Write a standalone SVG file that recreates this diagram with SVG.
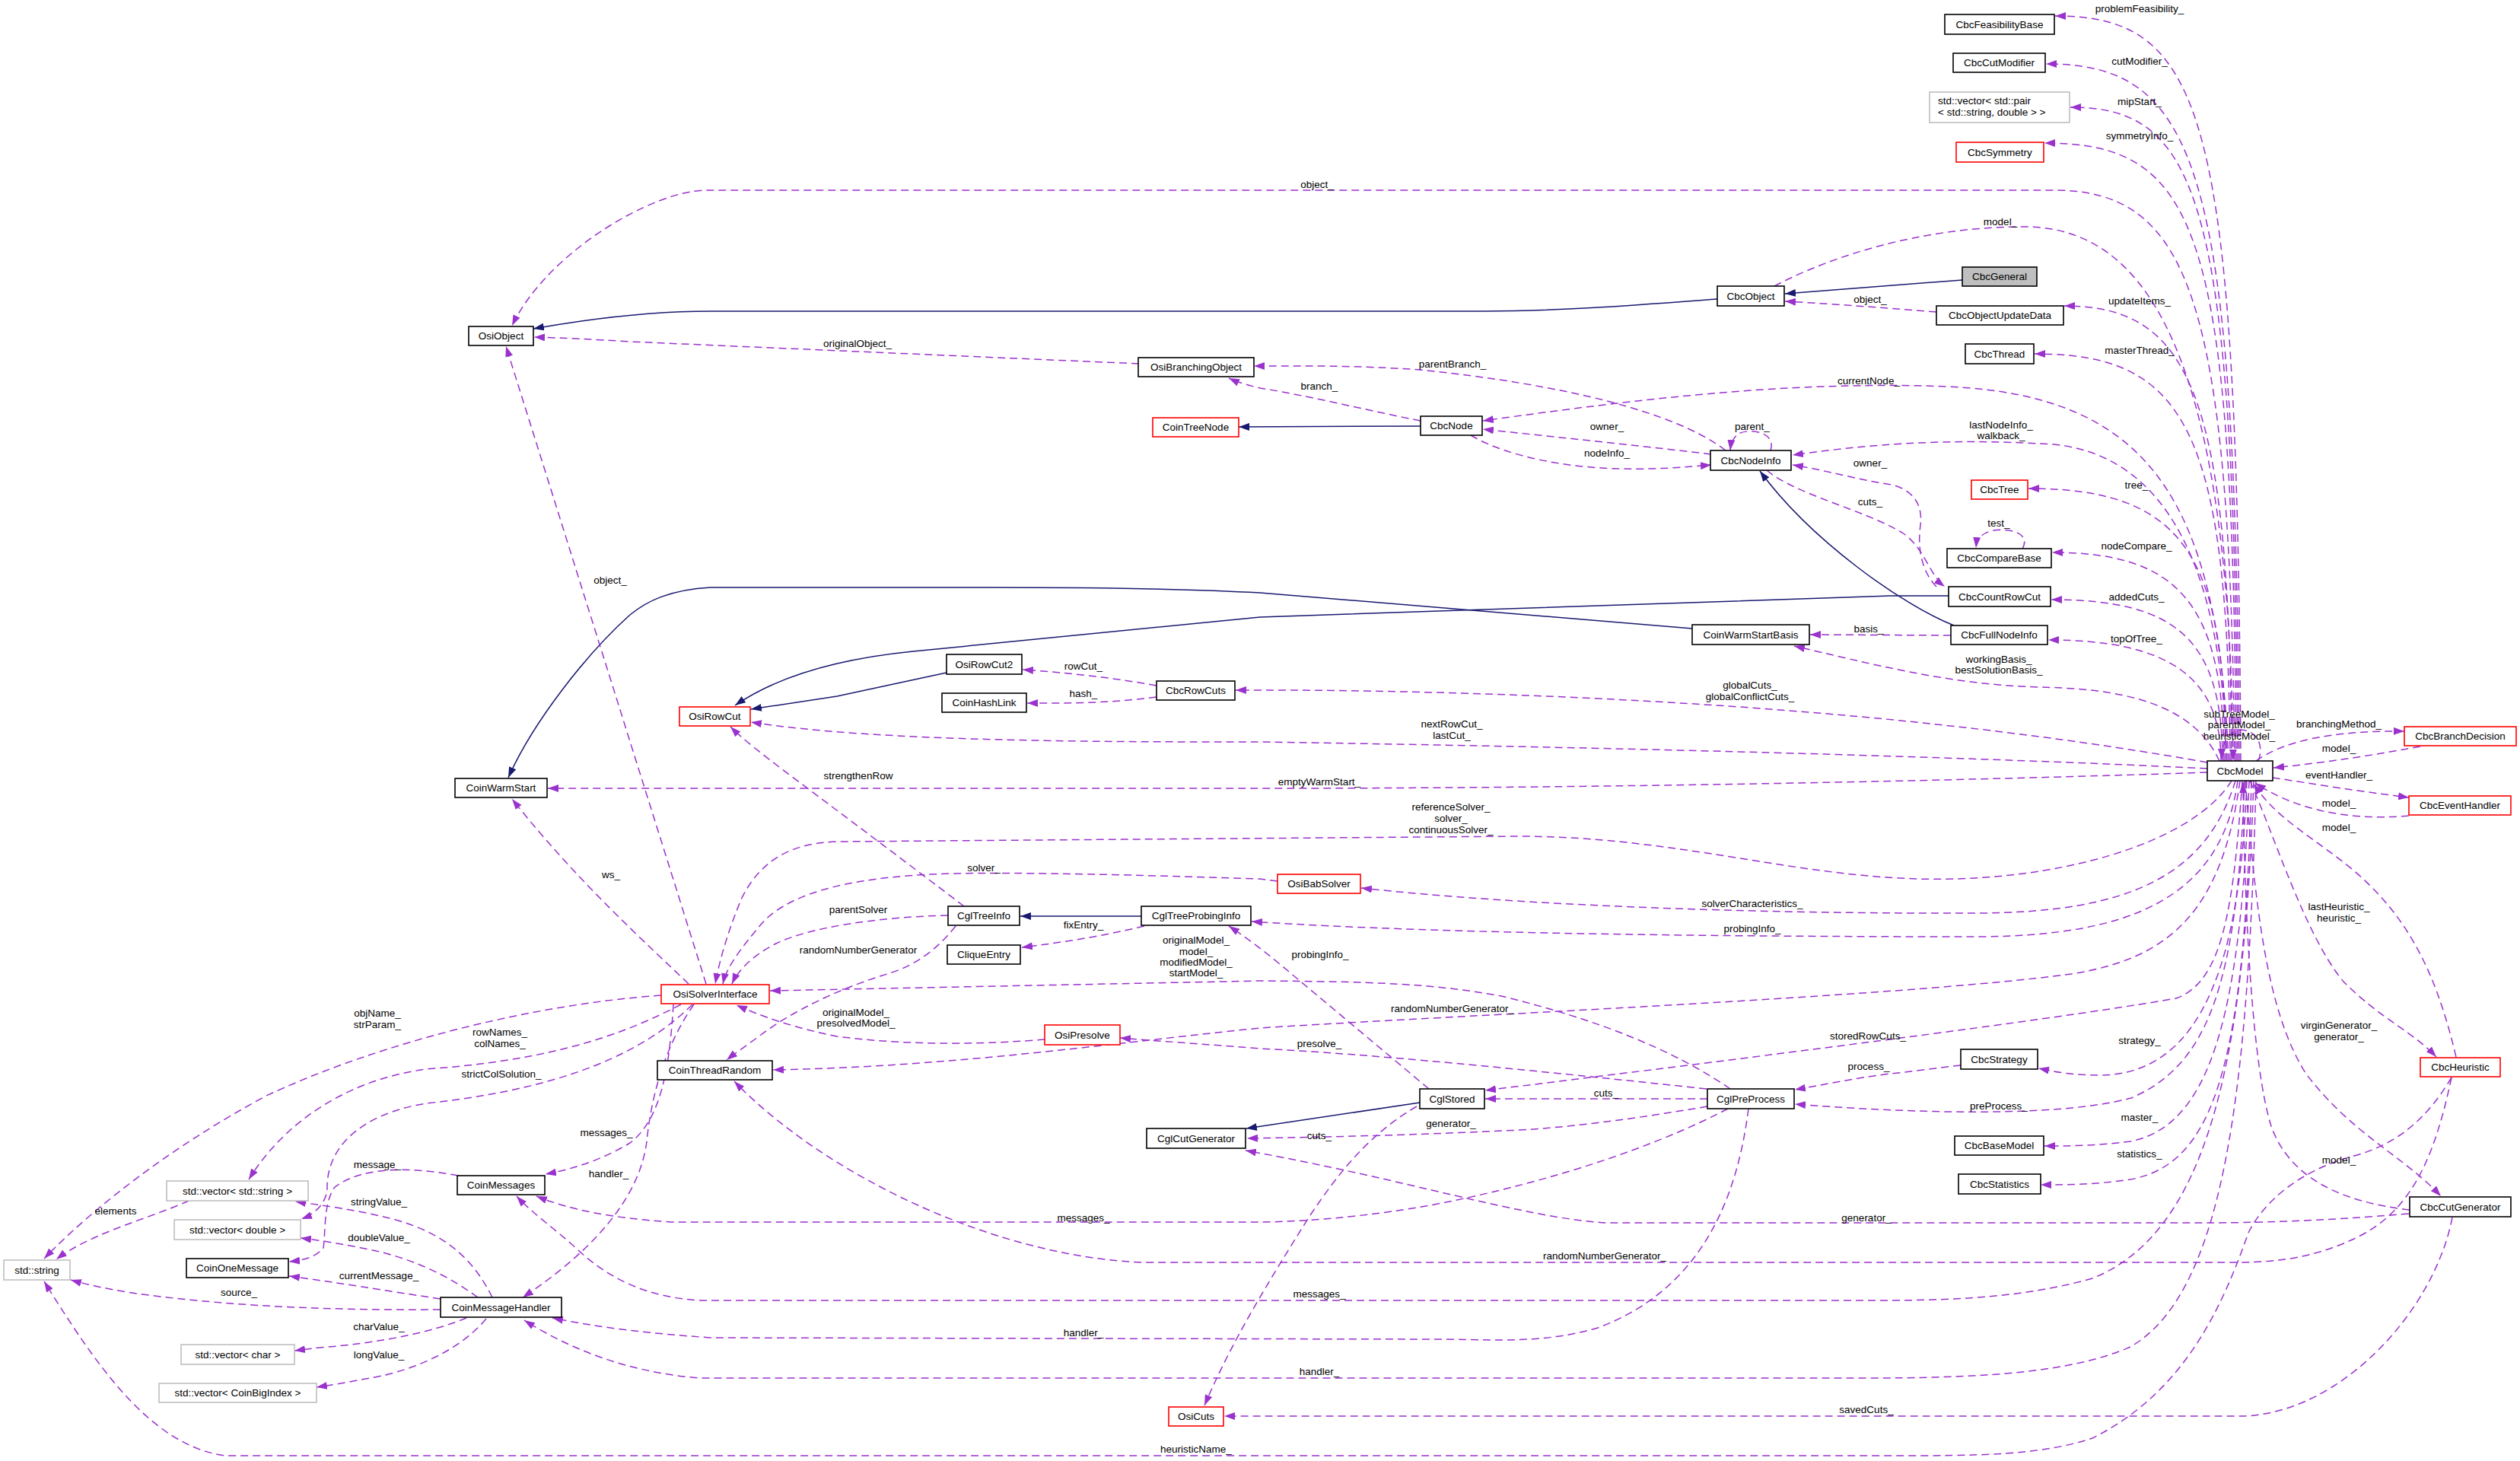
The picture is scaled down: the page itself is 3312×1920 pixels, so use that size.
<svg xmlns="http://www.w3.org/2000/svg" width="3312" height="1920" viewBox="0 0 3312 1920">
<style>
text{font-family:'Liberation Sans',Arial,sans-serif;font-size:13.5px;fill:#000}
.n rect{fill:#fff;stroke:#000;stroke-width:1.6}
.r rect{fill:#fff;stroke:#f00;stroke-width:1.6}
.g rect{fill:#fff;stroke:#bfbfbf;stroke-width:1.6}
.f rect{fill:#bfbfbf;stroke:#000;stroke-width:1.6}
.n text,.r text,.g text,.f text{text-anchor:middle}
#labels text{text-anchor:middle}
.d{fill:none;stroke:#9a32cd;stroke-width:1.5;stroke-dasharray:10,6;marker-end:url(#ap)}
.s{fill:none;stroke:#191970;stroke-width:1.5;marker-end:url(#an)}
</style>
<defs>
<marker id="ap" markerUnits="userSpaceOnUse" markerWidth="14" markerHeight="10" refX="14" refY="5" orient="auto" viewBox="0 0 14 10"><path d="M0,0L14,5L0,10z" fill="#9a32cd"/></marker>
<marker id="an" markerUnits="userSpaceOnUse" markerWidth="14" markerHeight="10" refX="14" refY="5" orient="auto" viewBox="0 0 14 10"><path d="M0,0L14,5L0,10z" fill="#191970"/></marker>
</defs>
<rect width="3312" height="1920" fill="#fff"/>
<g id="edges">
<path class="s" d="M2579,368 L2346,386"/>
<path class="s" d="M2257,393 C2150,401 2050,409 1950,409 L934,409 C860,409 780,418 701,432"/>
<path class="s" d="M1867,560 L1628,561"/>
<path class="s" d="M2568,822 C2500,795 2380,710 2313,619"/>
<path class="s" d="M2561,783 L2484,783 L1656,811 L1200,856 C1100,866 1020,890 966,927"/>
<path class="s" d="M1244,884 L1100,915 L987,932"/>
<path class="s" d="M2224,826 L1656,779 C1550,773 1400,772 1300,772 L934,772 C880,775 850,790 828,808 C770,860 700,950 668,1022"/>
<path class="s" d="M1500,1204 L1341,1204"/>
<path class="s" d="M1866,1449 L1638,1483"/>

<path class="d" d="M2945,1000 C2940,150 2900,21 2701,21"/>
<path class="d" d="M2943,1000 C2938,220 2890,84 2689,84"/>
<path class="d" d="M2941,1000 C2936,260 2890,141 2721,141"/>
<path class="d" d="M2939,1000 C2934,300 2890,188 2687,188"/>
<path class="d" d="M2937,1000 C2930,400 2880,250 2700,250 L928,250 C860,250 720,330 673,428"/>
<path class="d" d="M2332,376 C2400,340 2520,298 2660,298 C2800,298 2930,420 2935,999"/>
<path class="d" d="M2933,1000 C2930,520 2880,402 2713,402"/>
<path class="d" d="M2931,1000 C2928,560 2870,465 2674,465"/>
<path class="d" d="M2929,1000 C2915,650 2820,520 2560,508 C2350,500 2150,525 1949,553"/>
<path class="d" d="M2927,1000 C2920,750 2850,600 2700,584 C2550,575 2450,585 2356,598"/>
<path class="d" d="M2925,1000 C2925,730 2870,642 2666,642"/>
<path class="d" d="M2923,1000 C2923,790 2860,726 2697,726"/>
<path class="d" d="M2921,1000 C2921,840 2860,788 2696,788"/>
<path class="d" d="M2919,1000 C2919,890 2850,841 2692,841"/>
<path class="d" d="M2917,1000 C2880,920 2780,905 2680,903 C2560,900 2450,870 2358,849"/>
<path class="d" d="M2901,1002 C2750,975 2550,948 2300,930 C2050,912 1800,906 1624,907"/>
<path class="d" d="M2901,1010 C2700,1000 2300,985 1656,975 C1450,975 1150,975 987,949"/>
<path class="d" d="M2901,1015 C2700,1022 2200,1036 1656,1036 L720,1036"/>
<path class="d" d="M2933,1026 C2880,1110 2700,1160 2520,1155 C2350,1150 2200,1100 2000,1099 L1100,1106 C1040,1108 1000,1130 975,1180 C958,1220 946,1260 940,1293"/>
<path class="d" d="M2938,1026 C2900,1150 2800,1199 2600,1200 C2300,1201 2000,1190 1789,1167"/>
<path class="d" d="M2941,1026 C2920,1180 2800,1230 2600,1231 C2300,1231 1900,1228 1645,1211"/>
<path class="d" d="M2944,1026 C2920,1200 2850,1260 2722,1280 C2500,1310 1900,1335 1656,1351 C1450,1372 1250,1402 1016,1406"/>
<path class="d" d="M2947,1026 C2935,1200 2920,1290 2860,1312 C2700,1340 2300,1390 1952,1433"/>
<path class="d" d="M2950,1026 C2940,1300 2900,1400 2801,1443 C2700,1470 2500,1462 2359,1451"/>
<path class="d" d="M2953,1026 C2945,1250 2900,1412 2760,1413 C2720,1413 2700,1408 2679,1404"/>
<path class="d" d="M2956,1026 C2945,1350 2900,1480 2800,1500 C2750,1506 2720,1506 2687,1506"/>
<path class="d" d="M2959,1026 C2950,1400 2910,1530 2800,1550 C2750,1557 2720,1557 2682,1557"/>
<path class="d" d="M2962,1026 C2950,1400 2900,1620 2750,1680 C2650,1708 2550,1709 2450,1709 L920,1709 C850,1705 800,1680 760,1643 C730,1615 700,1595 679,1572"/>
<path class="d" d="M2965,1026 C2955,1450 2920,1700 2800,1770 C2720,1805 2600,1811 2450,1811 L920,1811 C840,1805 760,1780 689,1735"/>
<path class="d" d="M3222,1416 C3190,1470 3150,1505 3090,1520 C3020,1540 2975,1580 2955,1620 C2920,1720 2870,1830 2750,1890 C2680,1913 2600,1913 2484,1913 L296,1913 C200,1900 130,1800 58,1684"/>
<path class="d" d="M3222,1416 C3200,1520 3170,1590 3100,1625 C3050,1650 3000,1659 2940,1659 L1500,1659 C1300,1650 1080,1540 965,1421"/>
<path class="d" d="M3228,1389 C3200,1270 3160,1200 3091,1142 C3040,1100 2990,1075 2962,1030"/>
<path class="d" d="M2957,1026 C2990,1100 3030,1230 3080,1290 C3130,1340 3170,1355 3202,1389"/>
<path class="d" d="M2951,1026 C2965,1200 2980,1330 3030,1410 C3090,1490 3160,1520 3208,1572"/>
<path class="d" d="M3167,1590 C3080,1580 3010,1550 2985,1480 C2960,1400 2950,1200 2948,1028"/>
<path class="d" d="M2965,1000 C3000,975 3060,960 3160,961"/>
<path class="d" d="M3181,981 C3120,992 3060,1002 2988,1009"/>
<path class="d" d="M2987,1022 C3040,1030 3100,1040 3166,1048"/>
<path class="d" d="M3166,1072 C3080,1080 3010,1060 2964,1029"/>
<path class="d" d="M2968,1000 C2978,975 2960,955 2940,960 C2925,965 2920,980 2920,998"/>
<path class="d" d="M2545,410 C2480,405 2420,400 2346,396"/>
<path class="d" d="M2322,618 C2360,650 2450,670 2500,700 C2530,720 2535,755 2556,771"/>
<path class="d" d="M2545,771 C2525,750 2520,720 2524,690 C2528,660 2510,640 2480,636 C2440,630 2400,618 2356,611"/>
<path class="d" d="M2564,835 L2379,834"/>
<path class="d" d="M2268,592 C2200,540 2050,505 1867,486 C1780,480 1720,481 1648,481"/>
<path class="d" d="M1867,553 C1800,540 1720,520 1656,510 C1640,506 1628,503 1615,497"/>
<path class="d" d="M2249,597 C2150,585 2050,575 1949,564"/>
<path class="d" d="M1933,572 C1980,600 2060,615 2131,616 C2180,617 2215,614 2249,611"/>
<path class="d" d="M2327,592 C2335,568 2300,562 2285,570 C2278,575 2275,582 2274,592"/>
<path class="d" d="M2658,721 C2670,700 2640,694 2620,697 C2605,700 2598,708 2597,720"/>
<path class="d" d="M1497,478 L828,449 C780,446 740,444 702,443"/>
<path class="d" d="M1520,901 C1460,890 1400,884 1344,880"/>
<path class="d" d="M1520,916 C1450,925 1400,924 1350,924"/>
<path class="d" d="M1267,1191 C1200,1140 1120,1080 1040,1020 C1000,990 975,970 960,955"/>
<path class="d" d="M1679,1158 L1656,1155 C1500,1150 1350,1146 1250,1148 C1100,1152 1030,1180 1000,1215 C975,1245 955,1270 950,1293"/>
<path class="d" d="M1246,1203 C1150,1205 1060,1220 1020,1240 C990,1255 970,1275 962,1293"/>
<path class="d" d="M1256,1217 C1230,1250 1200,1270 1166,1280 C1100,1300 1040,1330 1000,1360 C980,1375 965,1385 955,1393"/>
<path class="d" d="M1504,1217 C1450,1230 1400,1238 1343,1245"/>
<path class="d" d="M1878,1431 L1700,1282 C1680,1265 1650,1240 1615,1217"/>
<path class="d" d="M2274,1431 C2200,1380 2100,1340 1973,1309 C1880,1292 1800,1290 1656,1289 L1012,1302"/>
<path class="d" d="M2243,1431 C2000,1405 1800,1385 1656,1378 C1580,1372 1520,1368 1472,1364"/>
<path class="d" d="M1373,1366 C1300,1372 1200,1375 1100,1362 C1040,1350 1000,1335 968,1321"/>
<path class="d" d="M2244,1444 L1952,1444"/>
<path class="d" d="M2577,1400 C2540,1404 2500,1410 2484,1411 C2430,1418 2400,1425 2359,1432"/>
<path class="d" d="M2244,1454 C2150,1470 2050,1484 1973,1486 C1850,1492 1750,1494 1639,1496"/>
<path class="d" d="M1862,1454 C1800,1490 1760,1540 1720,1600 C1670,1680 1620,1760 1583,1847"/>
<path class="d" d="M2271,1457 C2150,1520 2000,1560 1900,1580 C1800,1600 1700,1606 1656,1606 L881,1606 C800,1600 750,1590 705,1572"/>
<path class="d" d="M2298,1457 C2280,1600 2220,1700 2100,1745 C2030,1765 1973,1761 1900,1760 L934,1758 C850,1752 790,1745 726,1732"/>
<path class="d" d="M3166,1595 C3050,1605 2959,1607 2900,1607 L2110,1607 C2000,1600 1850,1550 1637,1512"/>
<path class="d" d="M3223,1600 C3200,1720 3080,1855 2950,1861 L1609,1861"/>
<path class="d" d="M928,1293 L665,455"/>
<path class="d" d="M905,1293 C850,1240 760,1160 673,1050"/>
<path class="d" d="M869,1308 C700,1320 500,1370 350,1440 C220,1510 120,1590 58,1654"/>
<path class="d" d="M895,1320 C800,1370 700,1395 560,1405 C450,1420 370,1480 327,1550"/>
<path class="d" d="M910,1320 C830,1400 700,1435 560,1450 C470,1465 430,1510 430,1560 C430,1580 415,1595 396,1602"/>
<path class="d" d="M885,1320 C880,1400 870,1470 828,1502 C790,1525 750,1537 717,1543"/>
<path class="d" d="M912,1320 C870,1380 855,1450 850,1500 C840,1580 770,1650 687,1705"/>
<path class="d" d="M602,1545 C550,1535 480,1530 440,1560 C425,1580 428,1620 425,1640 C415,1652 400,1656 380,1658"/>
<path class="d" d="M647,1705 C620,1650 580,1620 520,1603 C470,1590 430,1585 388,1579"/>
<path class="d" d="M628,1705 C580,1670 530,1650 475,1640 C440,1633 420,1630 395,1627"/>
<path class="d" d="M579,1707 C500,1695 440,1685 380,1677"/>
<path class="d" d="M579,1721 C450,1722 330,1718 211,1704 C160,1698 120,1690 93,1682"/>
<path class="d" d="M613,1732 C570,1750 500,1765 420,1771 C405,1773 395,1774 387,1775"/>
<path class="d" d="M639,1733 C600,1780 530,1805 480,1812 C450,1818 430,1821 416,1823"/>
<path class="d" d="M248,1578 C200,1600 120,1620 74,1655"/>
</g>
<g id="labels">
<text x="2812" y="16">problemFeasibility_</text>
<text x="2812" y="85">cutModifier_</text>
<text x="2812" y="138">mipStart_</text>
<text x="2812" y="183">symmetryInfo_</text>
<text x="1731" y="247">object_</text>
<text x="2629" y="296">model_</text>
<text x="2458" y="398">object_</text>
<text x="2812" y="400">updateItems_</text>
<text x="1127" y="456">originalObject_</text>
<text x="2812" y="465">masterThread_</text>
<text x="1909" y="483">parentBranch_</text>
<text x="2456" y="505">currentNode_</text>
<text x="1734" y="512">branch_</text>
<text x="2630" y="563">lastNodeInfo_</text>
<text x="2630" y="577">walkback_</text>
<text x="2112" y="565">owner_</text>
<text x="2303" y="565">parent_</text>
<text x="2112" y="600">nodeInfo_</text>
<text x="2458" y="613">owner_</text>
<text x="2808" y="642">tree_</text>
<text x="2458" y="664">cuts_</text>
<text x="2627" y="692">test_</text>
<text x="2808" y="722">nodeCompare_</text>
<text x="802" y="767">object_</text>
<text x="2808" y="789">addedCuts_</text>
<text x="2456" y="831">basis_</text>
<text x="2808" y="844">topOfTree_</text>
<text x="2627" y="871">workingBasis_</text>
<text x="2627" y="885">bestSolutionBasis_</text>
<text x="1424" y="880">rowCut_</text>
<text x="2300" y="905">globalCuts_</text>
<text x="2300" y="920">globalConflictCuts_</text>
<text x="1424" y="916">hash_</text>
<text x="2943" y="943">subTreeModel_</text>
<text x="2943" y="957">parentModel_</text>
<text x="2943" y="972">heuristicModel_</text>
<text x="3074" y="956">branchingMethod_</text>
<text x="1908" y="956">nextRowCut_</text>
<text x="1908" y="971">lastCut_</text>
<text x="3074" y="988">model_</text>
<text x="1128" y="1024">strengthenRow</text>
<text x="3074" y="1023">eventHandler_</text>
<text x="1734" y="1032">emptyWarmStart_</text>
<text x="3074" y="1060">model_</text>
<text x="1907" y="1065">referenceSolver_</text>
<text x="1907" y="1080">solver_</text>
<text x="1907" y="1095">continuousSolver_</text>
<text x="3074" y="1092">model_</text>
<text x="1293" y="1145">solver_</text>
<text x="803" y="1154">ws_</text>
<text x="2303" y="1192">solverCharacteristics_</text>
<text x="3074" y="1196">lastHeuristic_</text>
<text x="3074" y="1211">heuristic_</text>
<text x="1128" y="1200">parentSolver</text>
<text x="1424" y="1220">fixEntry_</text>
<text x="2303" y="1225">probingInfo_</text>
<text x="1572" y="1240">originalModel_</text>
<text x="1572" y="1255">model_</text>
<text x="1572" y="1269">modifiedModel_</text>
<text x="1572" y="1283">startModel_</text>
<text x="1128" y="1253">randomNumberGenerator</text>
<text x="1735" y="1259">probingInfo_</text>
<text x="1909" y="1330">randomNumberGenerator_</text>
<text x="1125" y="1335">originalModel_</text>
<text x="1125" y="1349">presolvedModel_</text>
<text x="496" y="1336">objName_</text>
<text x="496" y="1351">strParam_</text>
<text x="3074" y="1352">virginGenerator_</text>
<text x="3074" y="1367">generator_</text>
<text x="657" y="1361">rowNames_</text>
<text x="657" y="1376">colNames_</text>
<text x="2455" y="1366">storedRowCuts_</text>
<text x="2812" y="1372">strategy_</text>
<text x="1734" y="1376">presolve_</text>
<text x="2456" y="1406">process_</text>
<text x="659" y="1416">strictColSolution_</text>
<text x="2111" y="1441">cuts_</text>
<text x="2627" y="1458">preProcess_</text>
<text x="2812" y="1473">master_</text>
<text x="1907" y="1481">generator_</text>
<text x="797" y="1493">messages_</text>
<text x="1734" y="1497">cuts_</text>
<text x="2812" y="1521">statistics_</text>
<text x="3074" y="1529">model_</text>
<text x="496" y="1535">message_</text>
<text x="800" y="1547">handler_</text>
<text x="498" y="1584">stringValue_</text>
<text x="152" y="1596">elements</text>
<text x="1424" y="1605">messages_</text>
<text x="2453" y="1605">generator_</text>
<text x="498" y="1631">doubleValue_</text>
<text x="2109" y="1655">randomNumberGenerator_</text>
<text x="498" y="1681">currentMessage_</text>
<text x="314" y="1703">source_</text>
<text x="1734" y="1705">messages_</text>
<text x="498" y="1748">charValue_</text>
<text x="1424" y="1756">handler_</text>
<text x="498" y="1785">longValue_</text>
<text x="1734" y="1807">handler_</text>
<text x="2453" y="1857">savedCuts_</text>
<text x="1572" y="1909">heuristicName_</text>
</g>
<g id="node-CbcFeasibilityBase" class="n"><rect x="2556" y="19" width="144" height="26"/><text x="2628" y="36.7">CbcFeasibilityBase</text></g>
<g id="node-CbcCutModifier" class="n"><rect x="2567" y="70" width="121" height="25"/><text x="2627.5" y="87.2">CbcCutModifier</text></g>
<g id="node-vector-pair" class="g"><rect x="2536" y="121" width="184" height="40"/><text x="2547" y="137.4" style="text-anchor:start">std::vector&lt; std::pair</text><text x="2547" y="152" style="text-anchor:start">&lt; std::string, double &gt; &gt;</text></g>
<g id="node-CbcSymmetry" class="r"><rect x="2571" y="187" width="115" height="26"/><text x="2628.5" y="204.7">CbcSymmetry</text></g>
<g id="node-CbcGeneral" class="f"><rect x="2579" y="351" width="98" height="25"/><text x="2628" y="368.2">CbcGeneral</text></g>
<g id="node-CbcObjectUpdateData" class="n"><rect x="2545" y="402" width="167" height="25"/><text x="2628.5" y="419.2">CbcObjectUpdateData</text></g>
<g id="node-CbcThread" class="n"><rect x="2583" y="452" width="90" height="26"/><text x="2628" y="469.7">CbcThread</text></g>
<g id="node-CbcTree" class="r"><rect x="2591" y="631" width="74" height="25"/><text x="2628" y="648.2">CbcTree</text></g>
<g id="node-CbcCompareBase" class="n"><rect x="2559" y="721" width="137" height="25"/><text x="2627.5" y="738.2">CbcCompareBase</text></g>
<g id="node-CbcCountRowCut" class="n"><rect x="2561" y="771" width="134" height="26"/><text x="2628" y="788.7">CbcCountRowCut</text></g>
<g id="node-CbcFullNodeInfo" class="n"><rect x="2564" y="822" width="127" height="25"/><text x="2627.5" y="839.2">CbcFullNodeInfo</text></g>
<g id="node-CbcModel" class="n"><rect x="2901" y="1000" width="86" height="26"/><text x="2944" y="1017.7">CbcModel</text></g>
<g id="node-CbcBranchDecision" class="r"><rect x="3160" y="955" width="147" height="25"/><text x="3233.5" y="972.2">CbcBranchDecision</text></g>
<g id="node-CbcEventHandler" class="r"><rect x="3166" y="1046" width="134" height="25"/><text x="3233" y="1063.2">CbcEventHandler</text></g>
<g id="node-CbcHeuristic" class="r"><rect x="3181" y="1390" width="105" height="25"/><text x="3233.5" y="1407.2">CbcHeuristic</text></g>
<g id="node-CbcCutGenerator" class="n"><rect x="3167" y="1573" width="133" height="26"/><text x="3233.5" y="1590.7">CbcCutGenerator</text></g>
<g id="node-CbcStrategy" class="n"><rect x="2577" y="1379" width="101" height="26"/><text x="2627.5" y="1396.7">CbcStrategy</text></g>
<g id="node-CbcBaseModel" class="n"><rect x="2569" y="1493" width="117" height="25"/><text x="2627.5" y="1510.2">CbcBaseModel</text></g>
<g id="node-CbcStatistics" class="n"><rect x="2574" y="1543" width="108" height="26"/><text x="2628" y="1560.7">CbcStatistics</text></g>
<g id="node-CbcObject" class="n"><rect x="2257" y="376" width="88" height="26"/><text x="2301" y="393.7">CbcObject</text></g>
<g id="node-CbcNode" class="n"><rect x="1867" y="547" width="81" height="25"/><text x="1907.5" y="564.2">CbcNode</text></g>
<g id="node-CbcNodeInfo" class="n"><rect x="2248" y="592" width="106" height="26"/><text x="2301" y="609.7">CbcNodeInfo</text></g>
<g id="node-OsiBranchingObject" class="n"><rect x="1496" y="470" width="152" height="25"/><text x="1572" y="487.2">OsiBranchingObject</text></g>
<g id="node-CoinTreeNode" class="r"><rect x="1515" y="549" width="113" height="25"/><text x="1571.5" y="566.2">CoinTreeNode</text></g>
<g id="node-OsiObject" class="n"><rect x="616" y="429" width="85" height="25"/><text x="658.5" y="446.2">OsiObject</text></g>
<g id="node-CoinWarmStart" class="n"><rect x="598" y="1023" width="121" height="25"/><text x="658.5" y="1040.2">CoinWarmStart</text></g>
<g id="node-CoinWarmStartBasis" class="n"><rect x="2224" y="821" width="154" height="26"/><text x="2301" y="838.7">CoinWarmStartBasis</text></g>
<g id="node-OsiRowCut2" class="n"><rect x="1244" y="860" width="99" height="26"/><text x="1293.5" y="877.7">OsiRowCut2</text></g>
<g id="node-CbcRowCuts" class="n"><rect x="1520" y="895" width="103" height="25"/><text x="1571.5" y="912.2">CbcRowCuts</text></g>
<g id="node-CoinHashLink" class="n"><rect x="1238" y="911" width="111" height="25"/><text x="1293.5" y="928.2">CoinHashLink</text></g>
<g id="node-OsiRowCut" class="r"><rect x="893" y="929" width="93" height="25"/><text x="939.5" y="946.2">OsiRowCut</text></g>
<g id="node-CglTreeInfo" class="n"><rect x="1246" y="1191" width="94" height="25"/><text x="1293" y="1208.2">CglTreeInfo</text></g>
<g id="node-CglTreeProbingInfo" class="n"><rect x="1500" y="1191" width="144" height="25"/><text x="1572" y="1208.2">CglTreeProbingInfo</text></g>
<g id="node-CliqueEntry" class="n"><rect x="1245" y="1242" width="96" height="25"/><text x="1293" y="1259.2">CliqueEntry</text></g>
<g id="node-OsiBabSolver" class="r"><rect x="1679" y="1149" width="109" height="25"/><text x="1733.5" y="1166.2">OsiBabSolver</text></g>
<g id="node-OsiSolverInterface" class="r"><rect x="869" y="1294" width="142" height="25"/><text x="940" y="1311.2">OsiSolverInterface</text></g>
<g id="node-OsiPresolve" class="r"><rect x="1373" y="1347" width="99" height="26"/><text x="1422.5" y="1364.7">OsiPresolve</text></g>
<g id="node-CoinThreadRandom" class="n"><rect x="864" y="1394" width="151" height="25"/><text x="939.5" y="1411.2">CoinThreadRandom</text></g>
<g id="node-CglCutGenerator" class="n"><rect x="1507" y="1483" width="130" height="26"/><text x="1572" y="1500.7">CglCutGenerator</text></g>
<g id="node-OsiCuts" class="r"><rect x="1536" y="1849" width="72" height="25"/><text x="1572" y="1866.2">OsiCuts</text></g>
<g id="node-CglStored" class="n"><rect x="1866" y="1431" width="85" height="26"/><text x="1908.5" y="1448.7">CglStored</text></g>
<g id="node-CglPreProcess" class="n"><rect x="2244" y="1431" width="114" height="26"/><text x="2301" y="1448.7">CglPreProcess</text></g>
<g id="node-CoinMessages" class="n"><rect x="601" y="1545" width="115" height="25"/><text x="658.5" y="1562.2">CoinMessages</text></g>
<g id="node-vector-string" class="g"><rect x="219" y="1552" width="186" height="26"/><text x="312" y="1569.7">std::vector&lt; std::string &gt;</text></g>
<g id="node-vector-double" class="g"><rect x="229" y="1603" width="166" height="26"/><text x="312" y="1620.7">std::vector&lt; double &gt;</text></g>
<g id="node-std-string" class="g"><rect x="5" y="1656" width="87" height="26"/><text x="48.5" y="1673.7">std::string</text></g>
<g id="node-CoinOneMessage" class="n"><rect x="245" y="1654" width="134" height="25"/><text x="312" y="1671.2">CoinOneMessage</text></g>
<g id="node-CoinMessageHandler" class="n"><rect x="579" y="1705" width="159" height="26"/><text x="658.5" y="1722.7">CoinMessageHandler</text></g>
<g id="node-vector-char" class="g"><rect x="238" y="1767" width="149" height="26"/><text x="312.5" y="1784.7">std::vector&lt; char &gt;</text></g>
<g id="node-vector-CoinBigIndex" class="g"><rect x="209" y="1818" width="207" height="25"/><text x="312.5" y="1835.2">std::vector&lt; CoinBigIndex &gt;</text></g>
</svg>
